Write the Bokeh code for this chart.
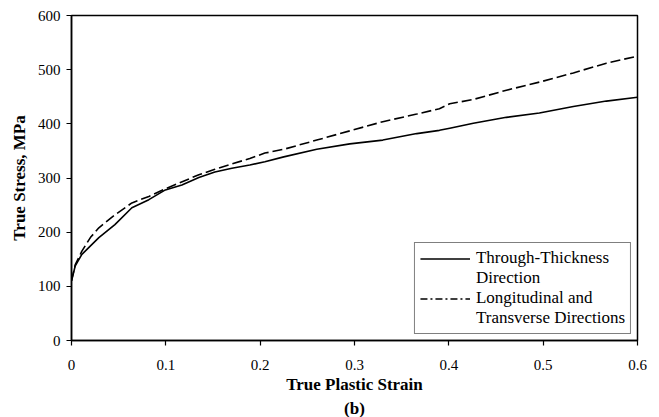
from bokeh.plotting import figure
from bokeh.models import Legend, LegendItem, Title, FixedTicker
from bokeh.embed import file_html
from bokeh.resources import INLINE

# Through-thickness direction: true plastic strain vs true stress (MPa)
tt_strain = [0.0, 0.004, 0.011, 0.029, 0.046, 0.064, 0.082, 0.0995, 0.117, 0.135,
             0.152, 0.170, 0.189, 0.205, 0.225, 0.260, 0.295, 0.330, 0.366, 0.390,
             0.401, 0.426, 0.461, 0.496, 0.532, 0.567, 0.600]
tt_stress = [110, 138, 159, 190, 214, 245, 260, 278, 287, 301,
             311, 318, 324, 330, 339, 353, 363, 370, 382, 388,
             392, 401, 412, 420, 432, 442, 449]

# Longitudinal and transverse directions
lt_strain = [0.0, 0.004, 0.011, 0.020, 0.029, 0.046, 0.064, 0.082, 0.0995, 0.135,
             0.152, 0.170, 0.189, 0.205, 0.225, 0.260, 0.295, 0.330, 0.366, 0.390,
             0.401, 0.426, 0.461, 0.496, 0.532, 0.567, 0.600]
lt_stress = [110, 140, 165, 190, 208, 232, 254, 266, 280, 306,
             316, 326, 336, 346, 353, 370, 387, 404, 418, 428,
             437, 445, 462, 477, 494, 512, 525]

x_ticks = [0, 0.1, 0.2, 0.3, 0.4, 0.5, 0.6]
y_ticks = [0, 100, 200, 300, 400, 500, 600]

SERIF = "Liberation Serif"

p = figure(width=659, height=417, x_range=(0, 0.6), y_range=(0, 600),
           output_backend="svg", toolbar_location=None,
           min_border_left=71, min_border_right=22, min_border_top=15,
           min_border_bottom=0)
p.background_fill_color = "white"
p.border_fill_color = "white"
p.outline_line_color = "black"
p.outline_line_width = 1.5
p.xgrid.visible = False
p.ygrid.visible = False

solid = p.line(tt_strain, tt_stress, line_color="black", line_width=1.6)
dashed = p.line(lt_strain, lt_stress, line_color="black", line_width=1.6,
                line_dash="10 4")

# legend-only renderers (kept outside the visible ranges)
off_x, off_y = [-1, -1], [-1, -1]
swatch = p.line(off_x, off_y, line_color="black", line_width=1.3,
                line_dash="7 3 2 3")
blank = p.line(off_x, off_y, line_color="black", line_alpha=0)

for ax in (p.xaxis, p.yaxis):
    ax.axis_line_color = "black"
    ax.axis_line_width = 1.5
    ax.major_tick_line_color = "black"
    ax.major_tick_line_width = 1.2
    ax.major_tick_out = 5
    ax.major_tick_in = 0
    ax.minor_tick_line_color = None
    ax.major_label_text_font = SERIF
    ax.major_label_text_font_size = "15px"
    ax.major_label_text_color = "black"
    ax.axis_label_text_font = SERIF
    ax.axis_label_text_font_style = "bold"
    ax.axis_label_text_font_size = "17px"
    ax.axis_label_text_color = "black"

p.xaxis.ticker = FixedTicker(ticks=x_ticks)
p.yaxis.ticker = FixedTicker(ticks=y_ticks)
p.xaxis.major_label_overrides = {0: "0"}
p.xaxis.axis_label = "True Plastic Strain"
p.yaxis.axis_label = "True Stress, MPa"
p.xaxis.major_label_standoff = 14
p.xaxis.axis_label_standoff = 2
p.yaxis.major_label_standoff = 6
p.yaxis.axis_label_standoff = 6

legend = Legend(items=[
    LegendItem(label="Through-Thickness", renderers=[solid]),
    LegendItem(label="Direction", renderers=[blank]),
    LegendItem(label="Longitudinal and", renderers=[swatch]),
    LegendItem(label="Transverse Directions", renderers=[blank]),
], location="bottom_right")
legend.label_text_font = SERIF
legend.label_text_font_size = "17px"
legend.label_text_color = "black"
legend.label_height = 19
legend.glyph_height = 19
legend.glyph_width = 50
legend.label_standoff = 6
legend.spacing = 0
legend.padding = 5
legend.margin = 6
legend.border_line_color = "black"
legend.border_line_width = 1
legend.background_fill_color = "white"
legend.background_fill_alpha = 1.0
p.add_layout(legend, "center")

p.add_layout(Title(text="(b)", align="center", text_font=SERIF,
                   text_font_style="bold", text_font_size="17px",
                   text_color="black", standoff=0), "below")

open("out.html", "w").write(file_html(p, INLINE))
